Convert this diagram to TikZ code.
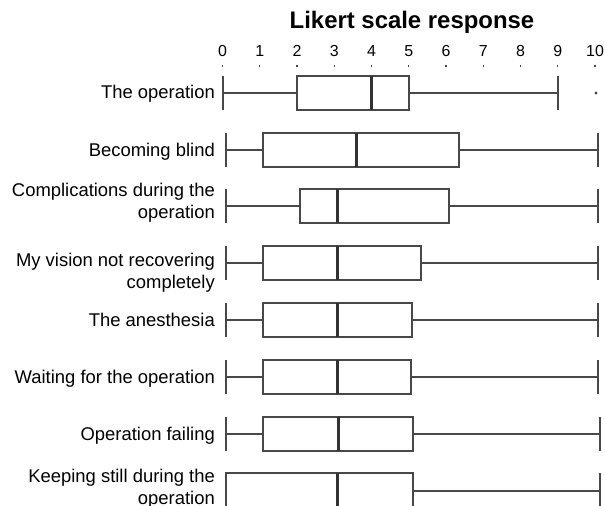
\documentclass[tikz,border=0pt]{standalone}
\usepackage{fontspec}
\setmainfont{Liberation Sans}
\definecolor{boxline}{RGB}{72,72,72}
\definecolor{medline}{RGB}{50,50,50}
\tikzset{
  bxline/.style={draw=boxline, line width=1.8bp},
  medstyle/.style={draw=medline, line width=3bp},
  rowlabel/.style={anchor=base east, inner sep=0pt, font=\fontsize{18.5}{21.7}\selectfont, align=right},
  ticklabel/.style={anchor=base, inner sep=0pt, font=\fontsize{16}{19}\selectfont},
  titlestyle/.style={anchor=base, inner sep=0pt, font=\fontsize{24}{28}\bfseries\selectfont}
}
\newcommand\bxrow[7]{%
  % #1 top, #2 bottom, #3 L, #4 Q1, #5 median, #6 Q3, #7 R
  \draw[bxline] (#3,#1) -- (#3,#2);
  \draw[bxline] (#7,#1) -- (#7,#2);
  \draw[bxline] (#3,{(#1+#2)/2}) -- (#4,{(#1+#2)/2});
  \draw[bxline] (#6,{(#1+#2)/2}) -- (#7,{(#1+#2)/2});
  \draw[bxline, fill=white] (#4,#1) rectangle (#6,#2);
  \draw[medstyle] (#5,#1) -- (#5,#2);
}
\begin{document}
\begin{tikzpicture}[x=1bp,y=-1bp]
\useasboundingbox (0,0) rectangle (605,506);
\clip (0,0) rectangle (605,506);
\fill[white] (0,0) rectangle (605,506);
% title
\node[titlestyle] (title) at (412,29) {Likert scale response};
% ticks
\foreach \i in {0,...,10}{
  \node[ticklabel] (t\i) at ({222.5+37.25*\i},57) {\i};
  \fill[boxline] ({222.5+37.25*\i-0.7},65.3) rectangle ({222.5+37.25*\i+0.7},67.3);
}
% rows
\bxrow{76}{110}{223}{297}{371.5}{409}{558}
\fill[boxline] (596,93) circle (1.7);
\bxrow{133}{167}{226}{263}{356}{459}{598}
\bxrow{189}{223}{226}{300}{337}{449}{598}
\bxrow{246}{280}{226}{263}{337}{421}{598}
\bxrow{303}{337}{226}{263}{337}{412}{598}
\bxrow{360}{394}{226}{263}{337}{411}{598}
\bxrow{417}{451}{226}{263}{338}{413}{600}
\bxrow{473}{509}{226}{226}{337}{413}{600}
% labels
\node[rowlabel] (l1) at (215,99) {The operation};
\node[rowlabel] (l2) at (215,157) {Becoming blind};
\node[rowlabel] (l3) at (215,218.4) {Complications during the\\operation};
\node[rowlabel] (l4) at (215,288.4) {My vision not recovering\\completely};
\node[rowlabel] (l5) at (215,326) {The anesthesia};
\node[rowlabel] (l6) at (215,383.3) {Waiting for the operation};
\node[rowlabel] (l7) at (215,440) {Operation failing};
\node[rowlabel] (l8) at (215,504.5) {Keeping still during the\\operation};
\end{tikzpicture}
\end{document}
